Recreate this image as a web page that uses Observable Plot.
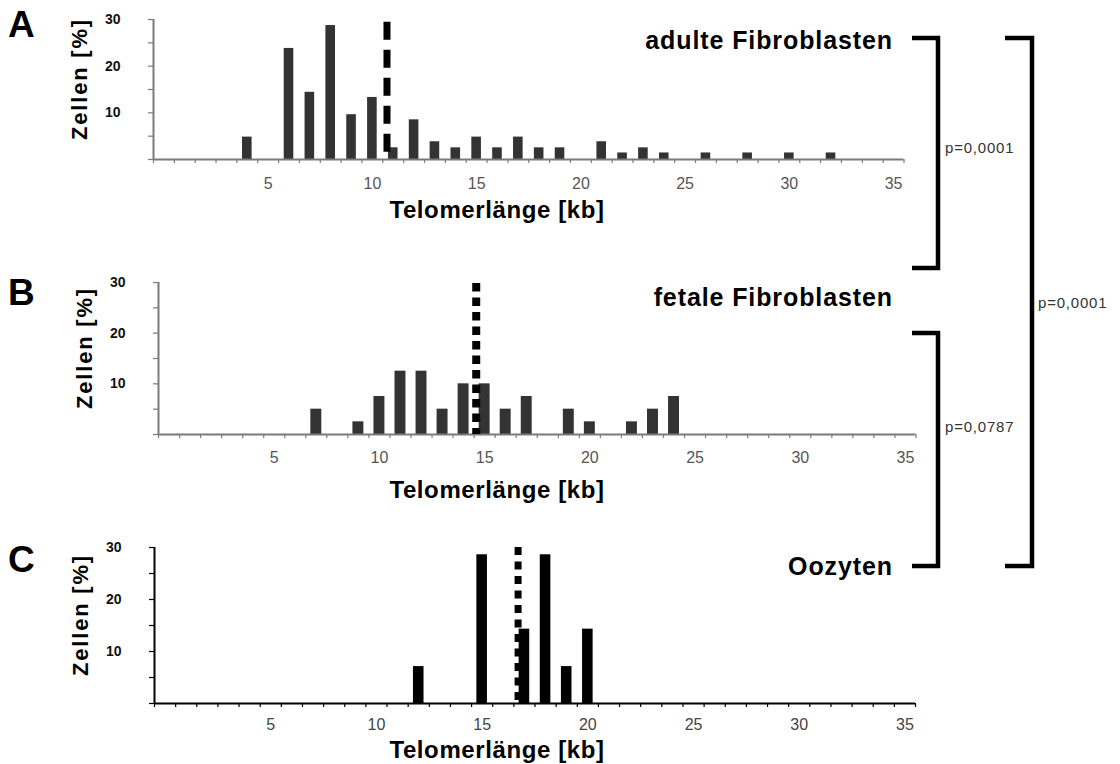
<!DOCTYPE html>
<html>
<head>
<meta charset="utf-8">
<script src="https://cdn.jsdelivr.net/npm/d3@7"></script>
<script src="https://cdn.jsdelivr.net/npm/@observablehq/plot@0.6"></script>
<style>
body { margin: 0; background: #fff; }
#root { position: relative; width: 1120px; height: 764px; overflow: hidden; font-family: "Liberation Sans", Arial, sans-serif; }
</style>
</head>
<body>
<div id="root"></div>
<script>
// ---- data ----
const kbA  = [4, 6, 7, 8, 9, 10, 11, 12, 13, 14, 15, 16, 17, 18, 19, 21, 22, 23, 24, 26, 28, 30, 32];
const pctA = [4.8, 23.8, 14.4, 28.7, 9.6, 13.3, 2.5, 8.5, 3.8, 2.5, 4.8, 2.5, 4.8, 2.5, 2.5, 3.8, 1.4, 2.5, 1.4, 1.4, 1.4, 1.4, 1.4];
const meanA = 10.7;

const kbB  = [7, 9, 10, 11, 12, 13, 14, 15, 16, 17, 19, 20, 22, 23, 24];
const pctB = [5, 2.5, 7.5, 12.5, 12.5, 5, 10, 10, 5, 7.5, 5, 2.5, 2.5, 5, 7.5];
const meanB = 14.6;

const kbC  = [12, 15, 17, 18, 19, 20];
const pctC = [7.1, 28.6, 14.3, 28.6, 7.1, 14.3];
const meanC = 16.7;

const xTickLabels = [5, 10, 15, 20, 25, 30, 35];
const yTickValues = [0, 5, 10, 15, 20, 25, 30];
const yTickLabels = [10, 20, 30];
const kbBoundaries = d3.range(-0.5, 36, 1);

const panelLetters = ["A", "B", "C"];
const panelTitles = ["adulte Fibroblasten", "fetale Fibroblasten", "Oozyten"];
const xTitle = "Telomerlänge [kb]";
const yTitle = "Zellen [%]";
const pLabels = ["p=0,0001", "p=0,0787", "p=0,0001"];

// ---- layout / style ----
const FONT = "Liberation Sans, Arial, sans-serif";
const W = 930;
const panels = [
  {kb: kbA, pct: pctA, mean: meanA, top: 0,   height: 235, x0: 153, x1: 903.5, y0: 159, y30: 19,
   bar: "#333", axis: "#7a7a7a", label: "#555", half: 0.23, dash: "18,10", dw: 7, lineTop: 29.4,
   tickPad: 18, letterY: 37, titleY: 49, xTitleY: 218, yTitleX: 87, yTitleY: 79},
  {kb: kbB, pct: pctB, mean: meanB, top: 262, height: 250, x0: 158, x1: 915.5, y0: 434, y30: 282,
   bar: "#333", axis: "#7a7a7a", label: "#555", half: 0.26, dash: "8.5,6", dw: 8, lineTop: 29.8,
   tickPad: 17, letterY: 305, titleY: 306, xTitleY: 498, yTitleX: 92, yTitleY: 348},
  {kb: kbC, pct: pctC, mean: meanC, top: 525, height: 239, x0: 154, x1: 915, y0: 703, y30: 547,
   bar: "#000", axis: "#000", label: "#444", half: 0.25, dash: "8,6.5", dw: 7, lineTop: 30,
   tickPad: 15, letterY: 572, titleY: 575, xTitleY: 758, yTitleX: 88, yTitleY: 615}
];

const root = document.getElementById("root");

panels.forEach((p) => {
  const data = p.kb.map((k, i) => ({k, v: p.pct[i]}));
  const chart = Plot.plot({
    width: W,
    height: p.height,
    marginLeft: p.x0,
    marginRight: W - p.x1,
    marginTop: p.y30 - p.top,
    marginBottom: p.height - (p.y0 - p.top),
    x: {domain: [-0.5, 35.5], axis: null},
    y: {domain: [0, 30], axis: null},
    style: {fontFamily: FONT, background: "transparent", overflow: "visible"},
    marks: [
      Plot.rectY(data, {x1: (d) => d.k - p.half, x2: (d) => d.k + p.half, y: "v", fill: p.bar}),
      Plot.ruleY([0], {stroke: p.axis, strokeWidth: 2}),
      Plot.ruleX([-0.5], {y1: 0, y2: 30, stroke: p.axis, strokeWidth: 2}),
      Plot.axisX({ticks: kbBoundaries, tickSize: 4, tickFormat: () => "", stroke: p.axis, strokeWidth: 1.2, label: null}),
      Plot.axisX({ticks: xTickLabels, tickSize: 0, tickPadding: p.tickPad, fontSize: 16, fill: p.label, label: null}),
      Plot.axisY({ticks: yTickValues, tickSize: 5, tickPadding: 28, stroke: p.axis, strokeWidth: 1.2,
                  tickFormat: (d) => (yTickLabels.includes(d) ? d : ""), fontSize: 14, fontWeight: "bold", fill: "#111", label: null}),
      Plot.ruleX([p.mean], {y1: p.lineTop, y2: 0, stroke: "#000", strokeWidth: p.dw, strokeDasharray: p.dash})
    ]
  });
  chart.style.position = "absolute";
  chart.style.left = "0px";
  chart.style.top = p.top + "px";
  root.appendChild(chart);
});

// ---- annotation overlay (titles, letters, brackets) ----
const svg = d3.select(root).append("svg")
  .attr("width", 1120).attr("height", 764)
  .style("position", "absolute").style("left", 0).style("top", 0)
  .style("font-family", FONT).style("pointer-events", "none");

panels.forEach((p, i) => {
  svg.append("text").text(panelLetters[i])
    .attr("x", 8).attr("y", p.letterY)
    .attr("font-size", 37).attr("font-weight", "bold").attr("fill", "#000");
  svg.append("text").text(panelTitles[i])
    .attr("x", 893).attr("y", p.titleY).attr("text-anchor", "end")
    .attr("font-size", 25).attr("font-weight", "bold").attr("letter-spacing", 0.9).attr("fill", "#000");
  svg.append("text").text(xTitle)
    .attr("x", 497).attr("y", p.xTitleY).attr("text-anchor", "middle")
    .attr("font-size", 24).attr("font-weight", "bold").attr("letter-spacing", 0.6).attr("fill", "#000");
  svg.append("text").text(yTitle)
    .attr("transform", `translate(${p.yTitleX},${p.yTitleY}) rotate(-90)`)
    .attr("text-anchor", "middle")
    .attr("font-size", 22).attr("font-weight", "bold").attr("letter-spacing", 1.8).attr("fill", "#000");
});

const brackets = [
  {xArm: 912, xV: 938, y1: 38, y2: 268, lx: 945, ly: 153},
  {xArm: 912, xV: 938, y1: 333, y2: 566, lx: 945, ly: 432},
  {xArm: 1005, xV: 1032, y1: 38, y2: 566, lx: 1038, ly: 308}
];
brackets.forEach((b, i) => {
  svg.append("path")
    .attr("d", `M${b.xArm},${b.y1}H${b.xV}V${b.y2}H${b.xArm}`)
    .attr("fill", "none").attr("stroke", "#000").attr("stroke-width", 4.5);
  svg.append("text").text(pLabels[i])
    .attr("x", b.lx).attr("y", b.ly)
    .attr("font-size", 15).attr("letter-spacing", 0.8).attr("fill", "#333");
});
</script>
</body>
</html>
